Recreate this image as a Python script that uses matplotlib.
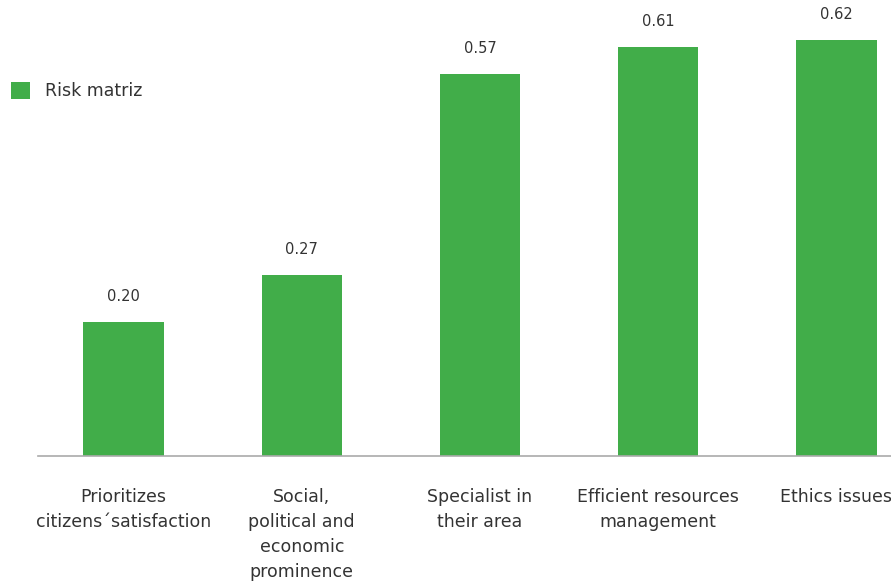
import matplotlib.pyplot as plt
from matplotlib.patches import Patch

# data
categories = [
    "Prioritizes\ncitizens\u00b4satisfaction",
    "Social,\npolitical and\neconomic\nprominence",
    "Specialist in\ntheir area",
    "Efficient resources\nmanagement",
    "Ethics issues",
]
values = [0.20, 0.27, 0.57, 0.61, 0.62]
value_labels = ["0.20", "0.27", "0.57", "0.61", "0.62"]
series_name = "Risk matriz"

green = "#41AD49"
text_col = "#333333"

fig = plt.figure(figsize=(8.91, 5.85), dpi=100)
ax = fig.add_axes([38 / 891, 1 - 456 / 585, 853 / 891, 456 / 585])

x = list(range(len(categories)))
ax.bar(x, values, width=0.45, color=green, zorder=2)

# value labels above bars
for xi, v, lab in zip(x, values, value_labels):
    ax.annotate(lab, (xi, v), xytext=(0, 18.5), textcoords="offset points",
                ha="center", va="center", fontsize=10.5, color=text_col)

ax.set_xlim(-0.48, 4.306)
ax.set_ylim(0, 0.68)
ax.set_xticks(x)
ax.set_xticklabels(categories, fontsize=12.5, color=text_col, linespacing=1.5, va="top")
ax.tick_params(axis="x", length=0, pad=23)
ax.set_yticks([])
# last label sits against the right edge, nudge it inwards a bit
ax.get_xticklabels()[-1].set_x(4.28)

for side in ["top", "right", "left"]:
    ax.spines[side].set_visible(False)
ax.spines["bottom"].set_color("#aaaaaa")
ax.spines["bottom"].set_linewidth(1.2)

# legend in the upper left
handle = Patch(facecolor=green, edgecolor="none", label=series_name)
fig.legend(handles=[handle], loc="center left", bbox_to_anchor=(-5 / 891, 1 - 91 / 585),
           frameon=False, fontsize=12.5, handlelength=1.1, handleheight=1.1,
           handletextpad=0.9, labelcolor=text_col)

fig.savefig("out.png", dpi=100)
